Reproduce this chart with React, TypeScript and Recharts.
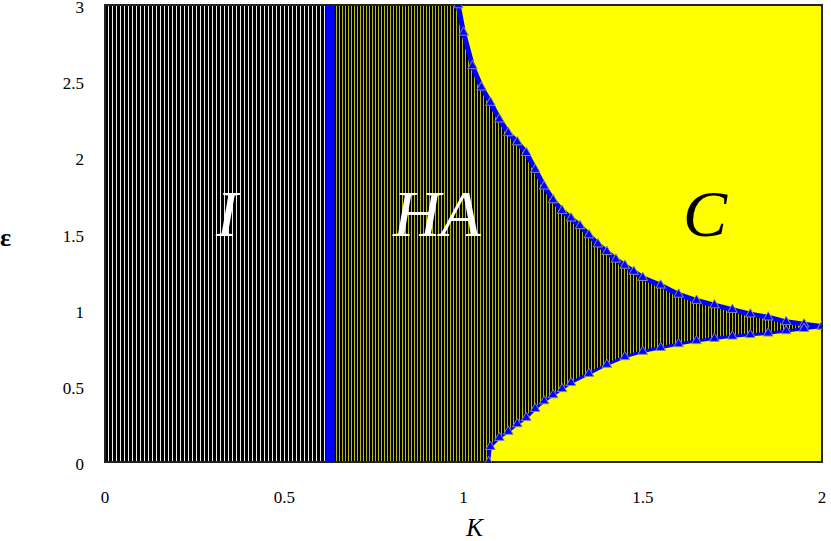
import {
  Area,
  ComposedChart,
  CartesianGrid,
  Line,
  ReferenceArea,
  ReferenceDot,
  Scatter,
  XAxis,
  YAxis,
  ZAxis,
} from "recharts";

const kTicks = [0, 0.5, 1, 1.5, 2];
const epsTicks = [0, 0.5, 1, 1.5, 2, 2.5, 3];

// K where the I region stops and HA begins
const boundaryI = 0.628;
const epsMax = 3;

// upper border of HA (blue triangles)
const upperK = [
  0.985, 1.0, 1.025, 1.05, 1.075, 1.1, 1.125, 1.15, 1.175, 1.2, 1.225, 1.25,
  1.275, 1.3, 1.325, 1.35, 1.375, 1.4, 1.425, 1.45, 1.475, 1.5, 1.55, 1.6,
  1.65, 1.7, 1.75, 1.8, 1.85, 1.9, 1.95, 2.0,
];
const upperEps = [
  3.0, 2.82, 2.6, 2.46, 2.36, 2.25, 2.16, 2.1, 2.03, 1.92, 1.81, 1.72, 1.65,
  1.6, 1.55, 1.49, 1.43, 1.38, 1.33, 1.29, 1.25, 1.21, 1.16, 1.1, 1.06, 1.03,
  1.0, 0.97, 0.95, 0.92, 0.905, 0.89,
];

// lower border of HA
const lowerK = [
  1.07, 1.075, 1.1, 1.125, 1.15, 1.175, 1.2, 1.225, 1.25, 1.275, 1.3, 1.35,
  1.4, 1.45, 1.5, 1.55, 1.6, 1.65, 1.7, 1.75, 1.8, 1.85, 1.9, 1.95, 2.0,
];
const lowerEps = [
  0.0, 0.1, 0.16, 0.2, 0.25, 0.29, 0.35, 0.4, 0.44, 0.48, 0.52, 0.58, 0.64,
  0.69, 0.725, 0.75, 0.775, 0.795, 0.81, 0.825, 0.835, 0.845, 0.86, 0.875,
  0.89,
];

const regionNames = ["I", "HA", "C"];
const regionK = [0.34, 0.926, 1.674];
const regionEps = [1.64, 1.64, 1.64];
const regionColors = ["#ffffff", "#ffffff", "#000000"];

const upperPts = upperK.map((k, i) => ({ K: k, eps: upperEps[i] }));
const lowerPts = lowerK.map((k, i) => ({ K: k, eps: lowerEps[i] }));
const bandPts = [
  { K: boundaryI, eps: 0 },
  { K: boundaryI, eps: epsMax },
];

type Row = { K: number; iTop?: number; upper?: number; lower?: number };

const rows: Row[] = [
  { K: 0, iTop: epsMax },
  { K: boundaryI, iTop: epsMax, upper: epsMax },
  ...upperPts.map((p) => ({ K: p.K, upper: p.eps })),
  ...lowerPts.map((p) => ({ K: p.K, lower: p.eps })),
].sort((a, b) => a.K - b.K);

const serif = "Liberation Serif";

const renderKTick = ({ x, y, payload }: any) => (
  <text
    x={x}
    y={y}
    dy={12}
    textAnchor="middle"
    fontFamily={serif}
    fontSize={17}
    fill="#000"
  >
    {payload.value}
  </text>
);

const renderEpsTick = ({ x, y, payload }: any) => (
  <text
    x={x}
    y={y}
    dy={8}
    textAnchor="end"
    fontFamily={serif}
    fontSize={17}
    fill="#000"
  >
    {payload.value}
  </text>
);

export default function App() {
  return (
    <div style={{ position: "absolute", left: 0, top: 0, background: "#fff" }}>
      <ComposedChart
        width={831}
        height={541}
        data={rows}
        margin={{ top: 5, right: 9, bottom: 0, left: 0 }}
      >
        <defs>
          <pattern id="iStripes" width={4} height={10} patternUnits="userSpaceOnUse">
            <rect width={4} height={10} fill="#000" />
            <rect width={1} height={10} fill="#f0f0f0" />
          </pattern>
          <pattern id="haStripes" width={3} height={10} patternUnits="userSpaceOnUse">
            <rect width={3} height={10} fill="#000" />
            <rect width={1} height={10} fill="#bcbc00" />
          </pattern>
        </defs>
        <CartesianGrid fill="#ffff00" horizontal={false} vertical={false} />
        <ZAxis range={[40, 40]} />
        <XAxis
          type="number"
          dataKey="K"
          domain={[0, 2]}
          ticks={kTicks}
          interval={0}
          allowDataOverflow
          height={79}
          axisLine={false}
          tickLine={false}
          tickSize={0}
          tickMargin={29}
          tick={renderKTick}
          label={{
            value: "K",
            position: "insideBottom",
            offset: 5,
            dx: 11,
            style: { fontFamily: serif, fontSize: 25, fontStyle: "italic", fill: "#000" },
          }}
        />
        <YAxis
          type="number"
          domain={[0, epsMax]}
          ticks={epsTicks}
          interval={0}
          allowDataOverflow
          width={105}
          axisLine={false}
          tickLine={false}
          tickSize={0}
          tickMargin={21}
          tick={renderEpsTick}
          label={{
            value: "ε",
            position: "insideLeft",
            offset: 0,
            dy: 3,
            style: { fontFamily: serif, fontSize: 26, fontWeight: "bold", fill: "#000" },
          }}
        />
        <Area
          dataKey="iTop"
          connectNulls
          stroke="none"
          fill="url(#iStripes)"
          fillOpacity={1}
          isAnimationActive={false}
        />
        <Area
          dataKey="upper"
          connectNulls
          stroke="none"
          fill="url(#haStripes)"
          fillOpacity={1}
          isAnimationActive={false}
        />
        <Area
          dataKey="lower"
          connectNulls
          stroke="none"
          fill="#ffff00"
          fillOpacity={1}
          isAnimationActive={false}
        />
        <Line
          data={bandPts}
          dataKey="eps"
          stroke="#0000ff"
          strokeWidth={9}
          dot={false}
          isAnimationActive={false}
        />
        <Line
          data={upperPts}
          dataKey="eps"
          stroke="#0000ff"
          strokeWidth={5}
          dot={false}
          isAnimationActive={false}
        />
        <Line
          data={lowerPts}
          dataKey="eps"
          stroke="#0000ff"
          strokeWidth={3}
          dot={false}
          isAnimationActive={false}
        />
        <Scatter
          data={upperPts}
          dataKey="eps"
          shape="triangle"
          fill="#0000ff"
          stroke="#8888aa"
          strokeWidth={1}
          isAnimationActive={false}
        />
        <Scatter
          data={lowerPts}
          dataKey="eps"
          shape="triangle"
          fill="#0000ff"
          stroke="#8888aa"
          strokeWidth={1}
          isAnimationActive={false}
        />
        {regionNames.map((name, i) => (
          <ReferenceDot
            key={name}
            x={regionK[i]}
            y={regionEps[i]}
            r={0}
            fill="none"
            stroke="none"
            label={{
              value: name,
              position: "center",
              style: {
                fontFamily: serif,
                fontSize: 66,
                fontStyle: "italic",
                fill: regionColors[i],
              },
            }}
          />
        ))}
        <ReferenceArea
          x1={0}
          x2={2}
          y1={0}
          y2={epsMax}
          fill="none"
          stroke="#222"
          strokeWidth={2}
          ifOverflow="visible"
        />
      </ComposedChart>
    </div>
  );
}
